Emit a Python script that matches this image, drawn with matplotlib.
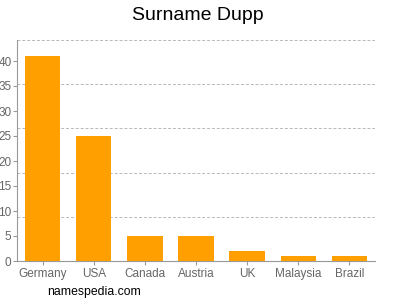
import numpy as np
import matplotlib
matplotlib.use("Agg")
import matplotlib.pyplot as plt

plt.rcParams["font.family"] = ["Liberation Sans", "DejaVu Sans"]

countries = ["Germany", "USA", "Canada", "Austria", "UK", "Malaysia", "Brazil"]
counts = [41, 25, 5, 5, 2, 1, 1]
ytick_vals = [0, 5, 10, 15, 20, 25, 30, 35, 40]

ytop = 44.2

fig = plt.figure(figsize=(4, 3), dpi=100)
ax = fig.add_axes([17 / 400, 1 - 261 / 300, (375 - 17) / 400, (261 - 40) / 300])

x = np.arange(len(countries))
ax.bar(x, counts, width=0.69, color="#ffa000", zorder=3)

ax.set_xlim(-0.5, len(countries) - 0.5)
ax.set_ylim(0, ytop)

# dashed grid split into five equal bands, independent of the tick labels
for k in range(1, 6):
    ax.axhline(ytop * k / 5, color="#b8b8b8", lw=0.7, ls=(0, (3, 2)), zorder=1)

ax.set_xticks(x)
ax.set_xticklabels(countries)
ax.set_yticks(ytick_vals)
ax.tick_params(axis="both", colors="#999999", labelcolor="#666666", labelsize=8.5, length=3, width=0.8)
ax.tick_params(axis="x", pad=2)
ax.tick_params(axis="y", pad=1)

for s in ["top", "right"]:
    ax.spines[s].set_visible(False)
for s in ["left", "bottom"]:
    ax.spines[s].set_color("#999999")
    ax.spines[s].set_linewidth(0.8)

fig.text(0.495, 1 - 15 / 300, "Surname Dupp", ha="center", va="center", fontsize=14)
fig.text(47 / 400, 1 - 292 / 300, "namespedia.com", ha="left", va="center", fontsize=8.8)

fig.savefig("out.png", dpi=100)
